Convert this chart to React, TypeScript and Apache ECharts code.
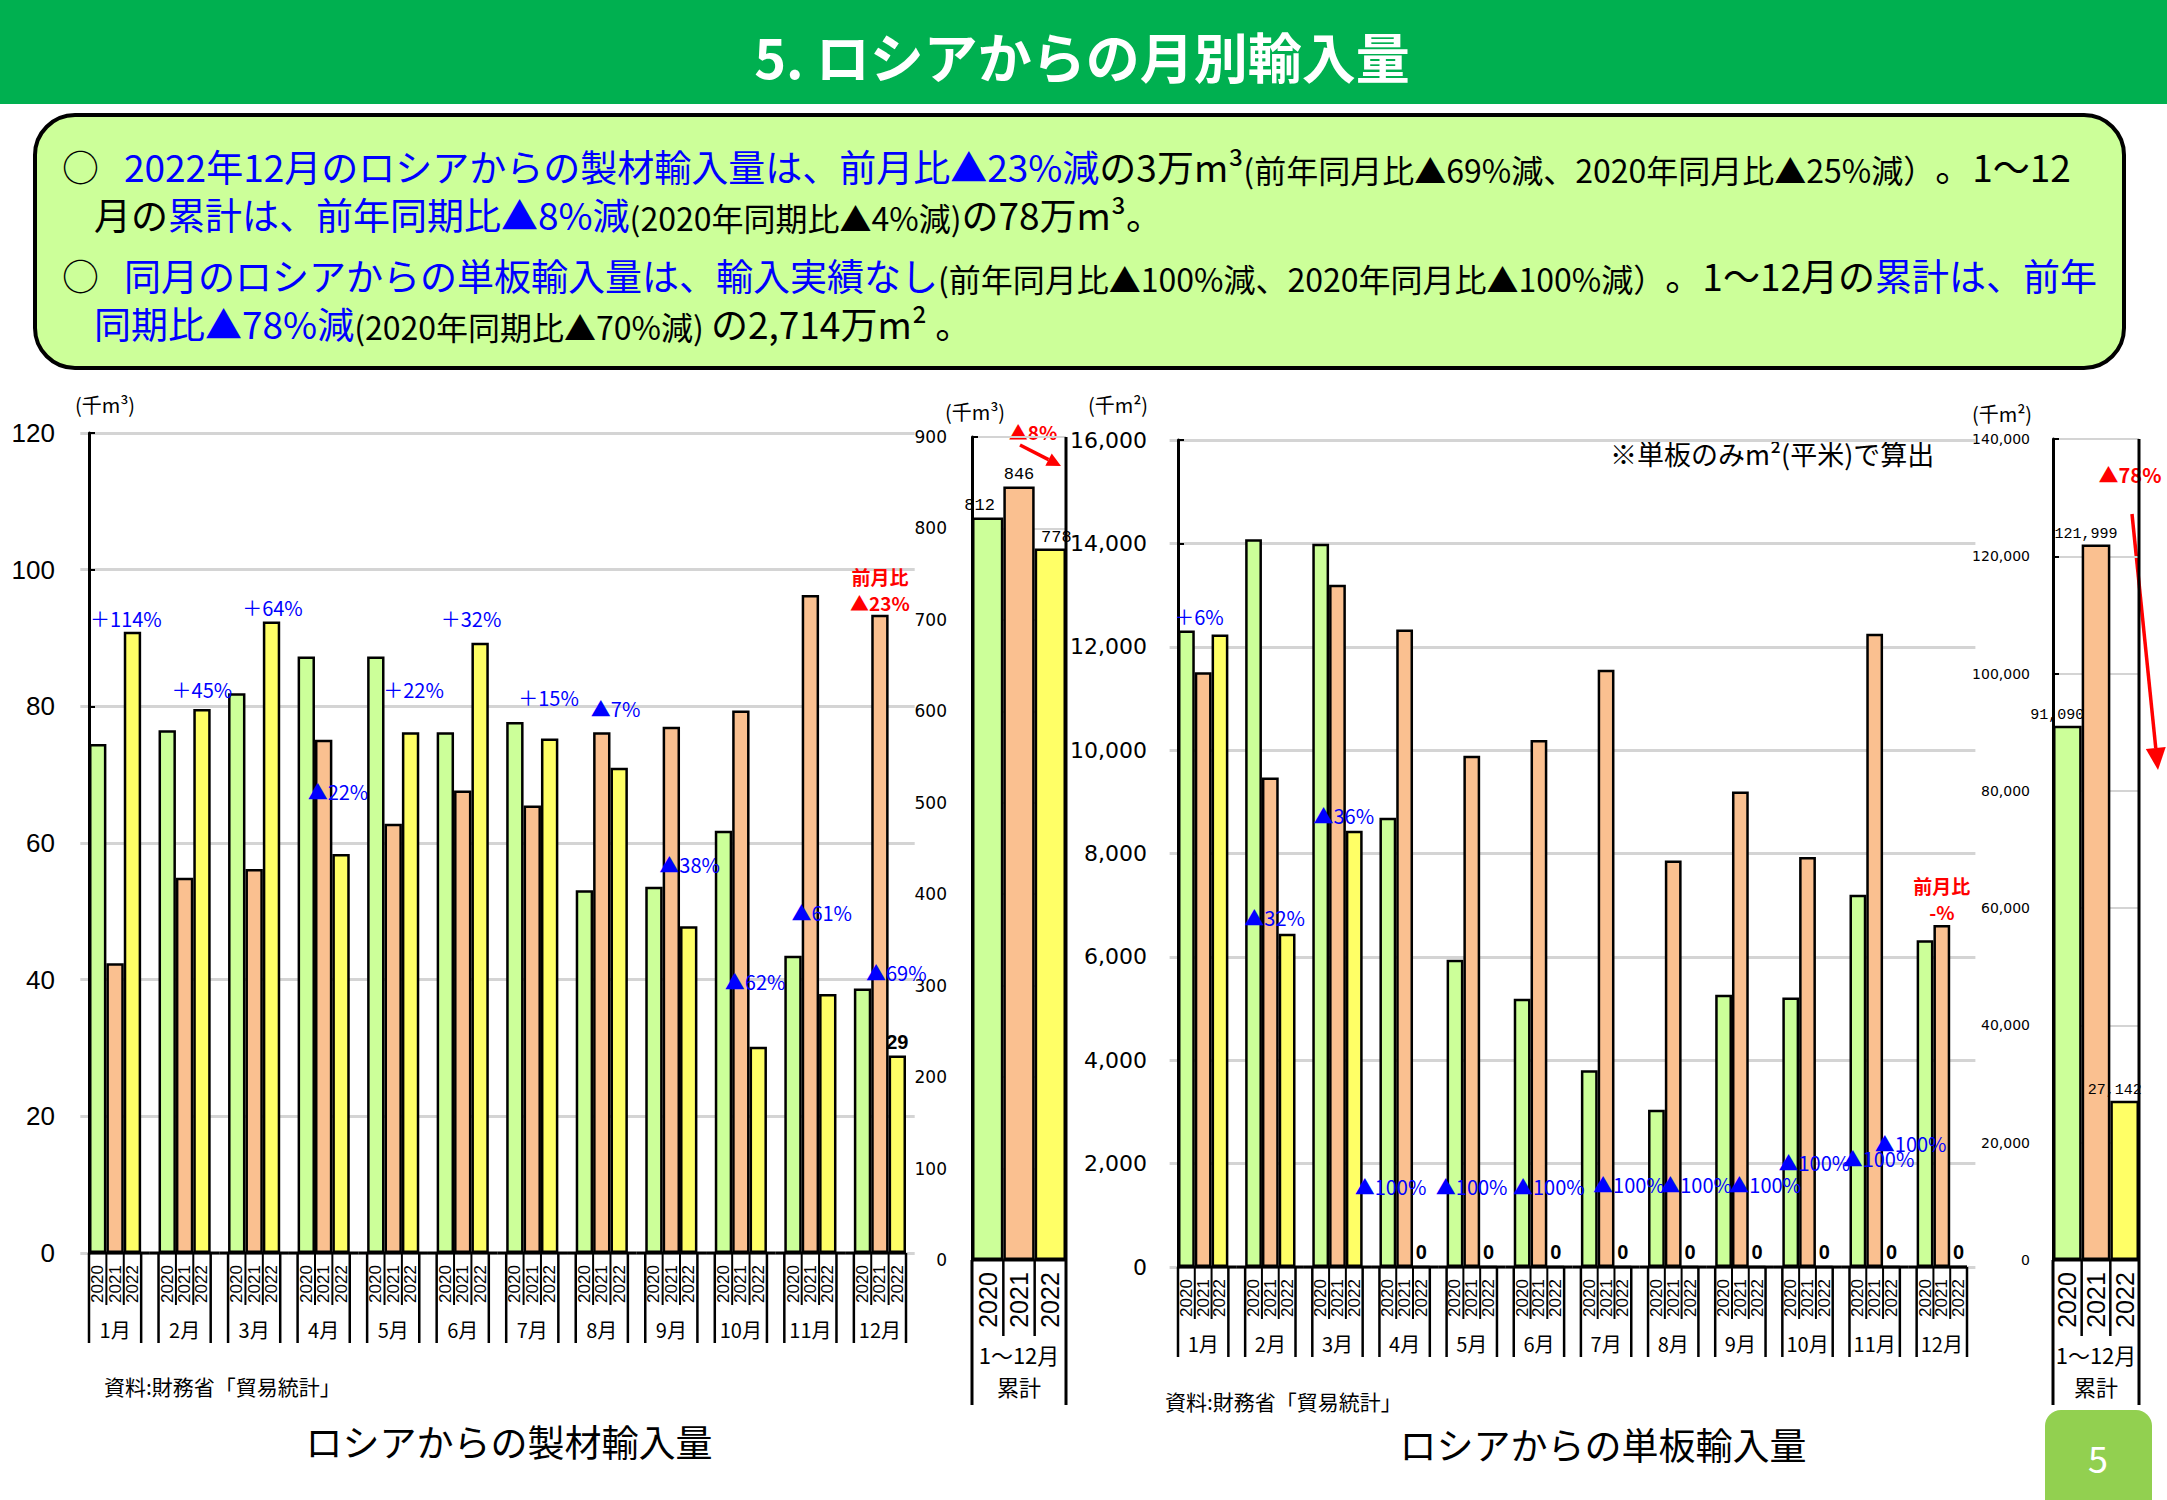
import React, { useEffect, useRef } from 'react';
import * as echarts from 'echarts';

// ---------------- data ----------------
const months = ['1月', '2月', '3月', '4月', '5月', '6月', '7月', '8月', '9月', '10月', '11月', '12月'];
const years = ['2020', '2021', '2022'];

// ロシアからの製材輸入量 (千m3)
const sawn2020 = [74.5, 76.5, 81.9, 87.3, 87.3, 76.2, 77.7, 53.1, 53.6, 61.8, 43.5, 38.7];
const sawn2021 = [42.4, 54.9, 56.2, 75.1, 62.8, 67.7, 65.5, 76.2, 77.0, 79.4, 96.3, 93.4];
const sawn2022 = [90.9, 79.6, 92.4, 58.4, 76.2, 89.3, 75.3, 71.0, 47.8, 30.2, 37.9, 28.9];
const sawnTotals = [812, 846, 778];

// ロシアからの単板輸入量 (千m2)
const veneer2020 = [12312, 14081, 13993, 8692, 5945, 5192, 3808, 3041, 5267, 5212, 7200, 6322];
const veneer2021 = [11505, 9471, 13200, 12332, 9892, 10197, 11553, 7864, 9200, 7932, 12250, 6616];
const veneer2022 = [12237, 6445, 8441, 0, 0, 0, 0, 0, 0, 0, 0, 0];
const veneerTotals = [91090, 121999, 27142];

const sawnTicks = [0, 20, 40, 60, 80, 100, 120];
const sawnTotalTicks = [0, 100, 200, 300, 400, 500, 600, 700, 800, 900];
const veneerTicks = [0, 2000, 4000, 6000, 8000, 10000, 12000, 14000, 16000];
const veneerTotalTicks = [0, 20000, 40000, 60000, 80000, 100000, 120000, 140000];

// annotations: [month index, anchor value, text]
const sawnNotes: [number, number, string][] = [
  [0, 92.9, '＋114%'], [1, 82.5, '＋45%'], [2, 94.4, '＋64%'], [3, 67.5, '▲22%'],
  [4, 82.5, '＋22%'], [5, 92.8, '＋32%'], [6, 81.3, '＋15%'], [7, 79.7, '▲7%'],
  [8, 56.8, '▲38%'], [9, 39.7, '▲62%'], [10, 49.9, '▲61%'], [11, 41.1, '▲69%'],
];
const sawnRedNotes: [number, number, string][] = [[11, 97.1, '前月比\n▲23%']];
const veneerNotes: [number, number, string][] = [
  [0, 12576, '＋6%'], [1, 6753, '▲32%'], [2, 8739, '▲36%'], [3, 1560, '▲100%'],
  [4, 1560, '▲100%'], [5, 1560, '▲100%'], [6, 1600, '▲100%'], [7, 1600, '▲100%'],
  [8, 1600, '▲100%'], [9, 2014, '▲100%'], [10, 2096, '▲100%'], [11, 2390, '▲100%'],
];
const veneerRedNotes: [number, number, string][] = [[11, 7130, '前月比\n-%']];

// layout nudges (px) for the hand-placed notes and total labels
const sawnNoteShift = [-25, -13, -12, -16, -10, -22, -14, -11, -12, -16, -19, -14];
const veneerNoteShift = [-29, -26, -24, -50, -36, -26, -13, -13, -11, -29, -32, -67];
const sawnTotalLabelShift = [-8, 0, 6];
const veneerTotalLabelShift = [-10, -10, -10];

// ---------------- styles ----------------
const C2020 = '#CCFF99';
const C2021 = '#FAC090';
const C2022 = '#FFFF66';
const yearColors = [C2020, C2021, C2022];
const JP = '"Noto Sans CJK JP", "Noto Sans", sans-serif';
const SANS = '"Liberation Sans", Arial, sans-serif';
const WIDE = '"DejaVu Sans", sans-serif';
const MONO = '"Liberation Mono", "DejaVu Sans Mono", monospace';
const GAP = 0.25;

const comma = (v: number) => v.toLocaleString('en-US');

function mainLayout(axisX: number, endX: number) {
  const W = (endX - axisX) / (12 - GAP);
  const half = (W * GAP) / 2;
  return { left: axisX - half, width: W * 12, half };
}

function valueAxis(gi: number, ticks: number[], offset: number, label: any, splitW: number) {
  return {
    type: 'value',
    gridIndex: gi,
    min: ticks[0],
    max: ticks[ticks.length - 1],
    interval: ticks[1] - ticks[0],
    offset,
    axisLine: { show: true, lineStyle: { color: '#000', width: 3 } },
    axisTick: { show: true, inside: true, length: 6, lineStyle: { color: '#000', width: 2 } },
    splitLine: { show: true, lineStyle: { color: '#D4D4D4', width: splitW } },
    axisLabel: { color: '#000', ...label },
  };
}

function catAxis(gi: number, data: string[]) {
  return {
    type: 'category',
    gridIndex: gi,
    data,
    axisLine: { show: false },
    axisTick: { show: false },
    axisLabel: { show: false },
    splitLine: { show: false },
  };
}

function mainDeco(gi: number) {
  return {
    type: 'custom',
    xAxisIndex: gi,
    yAxisIndex: gi,
    clip: false,
    silent: true,
    z: 5,
    data: months.map((_, i) => [i, 0]),
    encode: { x: 0, y: 1 },
    renderItem: (params: any, api: any) => {
      const idx = api.value(0);
      const base = api.coord([idx, 0]);
      const bw = api.size([1, 0])[0];
      const gw = bw * (1 - GAP);
      const left = base[0] - gw / 2;
      const bar = gw / 3;
      const y0 = base[1];
      const ls = { stroke: '#000', lineWidth: 2.5 };
      const ch: any[] = [];
      const x1 = idx === 0 ? left : base[0] - bw / 2;
      const x2 = idx === months.length - 1 ? left + gw : base[0] + bw / 2;
      ch.push({ type: 'line', shape: { x1, y1: y0, x2, y2: y0 }, style: { stroke: '#000', lineWidth: 3 } });
      ch.push({ type: 'line', shape: { x1: left, y1: y0, x2: left, y2: y0 + 90 }, style: ls });
      ch.push({ type: 'line', shape: { x1: left + gw, y1: y0, x2: left + gw, y2: y0 + 90 }, style: ls });
      for (let k = 1; k < 3; k++) {
        ch.push({ type: 'line', shape: { x1: left + bar * k, y1: y0, x2: left + bar * k, y2: y0 + 52 }, style: { stroke: '#000', lineWidth: 2 } });
      }
      for (let k = 0; k < 3; k++) {
        ch.push({
          type: 'text', x: left + bar * (k + 0.5), y: y0 + 31, rotation: Math.PI / 2,
          style: { text: years[k], fill: '#000', fontSize: 17, fontFamily: SANS, align: 'center', verticalAlign: 'middle' },
        });
      }
      ch.push({
        type: 'text', x: base[0], y: y0 + 76,
        style: { text: months[idx], fill: '#000', fontSize: 20, fontFamily: JP, align: 'center', verticalAlign: 'middle' },
      });
      return { type: 'group', children: ch };
    },
  };
}

function cumDeco(gi: number, maxV: number) {
  return {
    type: 'custom',
    xAxisIndex: gi,
    yAxisIndex: gi,
    clip: false,
    silent: true,
    z: 5,
    data: years.map((_, i) => [i, 0]),
    encode: { x: 0, y: 1 },
    renderItem: (params: any, api: any) => {
      const idx = api.value(0);
      const base = api.coord([idx, 0]);
      const top = api.coord([idx, maxV])[1];
      const bw = api.size([1, 0])[0];
      const left = base[0] - bw / 2;
      const right = base[0] + bw / 2;
      const y0 = base[1];
      const ch: any[] = [];
      ch.push({ type: 'line', shape: { x1: left, y1: y0, x2: right, y2: y0 }, style: { stroke: '#000', lineWidth: 3 } });
      if (idx > 0) ch.push({ type: 'line', shape: { x1: left, y1: y0, x2: left, y2: y0 + 76 }, style: { stroke: '#000', lineWidth: 2.5 } });
      if (idx === 0) ch.push({ type: 'line', shape: { x1: left, y1: y0, x2: left, y2: y0 + 145 }, style: { stroke: '#000', lineWidth: 3 } });
      if (idx === 2) ch.push({ type: 'line', shape: { x1: right, y1: top, x2: right, y2: y0 + 145 }, style: { stroke: '#000', lineWidth: 3 } });
      ch.push({
        type: 'text', x: base[0], y: y0 + 40, rotation: Math.PI / 2,
        style: { text: years[idx], fill: '#000', fontSize: 25, fontFamily: SANS, align: 'center', verticalAlign: 'middle' },
      });
      if (idx === 1) {
        ch.push({ type: 'text', x: base[0], y: y0 + 94, style: { text: '1～12月', fill: '#000', fontSize: 22, fontFamily: JP, align: 'center', verticalAlign: 'middle' } });
        ch.push({ type: 'text', x: base[0], y: y0 + 126, style: { text: '累計', fill: '#000', fontSize: 22, fontFamily: JP, align: 'center', verticalAlign: 'middle' } });
      }
      return { type: 'group', children: ch };
    },
  };
}

function noteSeries(gi: number, notes: [number, number, string][], shifts: number[] | null, color: string, red: boolean) {
  return {
    type: 'custom',
    xAxisIndex: gi,
    yAxisIndex: gi,
    clip: false,
    silent: true,
    z: 20,
    data: notes.map((n) => [n[0], n[1]]),
    encode: { x: 0, y: 1 },
    renderItem: (params: any, api: any) => {
      const k = params.dataIndex;
      const p = api.coord([api.value(0), api.value(1)]);
      return {
        type: 'text',
        x: p[0] + (shifts ? shifts[k] : 0),
        y: p[1],
        style: {
          text: notes[k][2], fill: color, fontSize: red ? 19 : 20, fontFamily: JP,
          fontWeight: red ? 'bold' : 'normal', align: red ? 'center' : 'left', verticalAlign: 'middle', lineHeight: 26,
        },
      };
    },
  };
}

function barSeries(gi: number, values: number[], color: string, labelFor: (v: number, i: number) => boolean, fmt: (v: number) => string) {
  return {
    type: 'bar',
    xAxisIndex: gi,
    yAxisIndex: gi,
    barGap: '0%',
    barCategoryGap: '25%',
    itemStyle: { color, borderColor: '#000', borderWidth: 2.5 },
    data: values.map((v, i) =>
      labelFor(v, i)
        ? { value: v, label: { show: true, position: 'top', distance: 4, formatter: fmt(v), color: '#000', fontWeight: 'bold', fontSize: 20, fontFamily: SANS } }
        : v,
    ),
  };
}

function cumSeries(gi: number, values: number[], fontSize: number, fmt: (v: number) => string, shifts: number[]) {
  return {
    type: 'bar',
    xAxisIndex: gi,
    yAxisIndex: gi,
    barCategoryGap: '0%',
    data: values.map((v, i) => ({ value: v, itemStyle: { color: yearColors[i] }, label: { offset: [shifts[i], 0] } })),
    itemStyle: { borderColor: '#000', borderWidth: 2.5 },
    label: { show: true, position: 'top', distance: 3, formatter: (p: any) => fmt(p.value), color: '#000', fontSize, fontFamily: MONO },
  };
}

function arrow(x1: number, y1: number, x2: number, y2: number, len: number, half: number, color: string) {
  const dx = x2 - x1;
  const dy = y2 - y1;
  const d = Math.hypot(dx, dy);
  const ux = dx / d;
  const uy = dy / d;
  const bx = x2 - ux * len;
  const by = y2 - uy * len;
  return [
    { type: 'line', shape: { x1, y1, x2: bx, y2: by }, style: { stroke: color, lineWidth: 3.5 } },
    {
      type: 'polygon',
      shape: { points: [[x2, y2], [bx - uy * half, by + ux * half], [bx + uy * half, by - ux * half]] },
      style: { fill: color },
    },
  ];
}

function txt(x: number, y: number, text: string, size: number, extra: any = {}) {
  return {
    type: 'text', x, y, silent: true,
    style: { text, fill: '#000', fontSize: size, fontFamily: JP, align: 'left', verticalAlign: 'middle', ...extra },
  };
}

function richLine(x: number, y: number, text: string) {
  const tok = (fill: string, fontSize: number) => ({ fill, color: fill, fontSize, fontFamily: JP, verticalAlign: 'bottom' });
  return {
    type: 'text', x, y, silent: true,
    style: {
      text, align: 'left', verticalAlign: 'middle', fontFamily: JP, fontSize: 37,
      rich: { b: tok('#0000FF', 37), k: tok('#000000', 37), s: tok('#000000', 32) },
    },
  };
}

function buildOption() {
  const L = mainLayout(89, 906);
  const R = mainLayout(1178, 1967);
  const graphic: any[] = [
    { type: 'rect', shape: { x: 0, y: 0, width: 2167, height: 104 }, style: { fill: '#00B050' } },
    txt(1082, 55, '5. ロシアからの月別輸入量', 54, { fill: '#FFFFFF', fontWeight: 'bold', align: 'center' }),
    { type: 'rect', shape: { x: 35, y: 115, width: 2089, height: 253, r: 40 }, style: { fill: '#CCFF99', stroke: '#000', lineWidth: 4 } },
    txt(62, 166, '○', 37),
    richLine(124, 166, '{b|2022年12月のロシアからの製材輸入量は、前月比▲23%減}{k|の3万m³}{s|(前年同月比▲69%減、2020年同月比▲25%減）}{k|。1～12}'),
    richLine(94, 214, '{k|月の}{b|累計は、前年同期比▲8%減}{s|(2020年同期比▲4%減)}{k|の78万m³。}'),
    txt(62, 275, '○', 37),
    richLine(124, 275, '{b|同月のロシアからの単板輸入量は、輸入実績なし}{s|(前年同月比▲100%減、2020年同月比▲100%減）}{k|。1～12月の}{b|累計は、前年}'),
    richLine(94, 323, '{b|同期比▲78%減}{s|(2020年同期比▲70%減) }{k|の2,714万m² 。}'),
    txt(105, 404, '(千m³)', 20, { align: 'center' }),
    txt(975, 411, '(千m³)', 20, { align: 'center' }),
    txt(1118, 404, '(千m²)', 20, { align: 'center' }),
    txt(2002, 413, '(千m²)', 20, { align: 'center' }),
    txt(1033, 431, '▲8%', 19, { fill: '#FF0000', fontWeight: 'bold', align: 'center' }),
    ...arrow(1020, 445, 1061, 466, 14, 7, '#FF0000'),
    txt(2130, 474, '▲78%', 20, { fill: '#FF0000', fontWeight: 'bold', align: 'center' }),
    ...arrow(2132, 514, 2158, 770, 22, 10, '#FF0000'),
    txt(1610, 453, '※単板のみm²(平米)で算出', 27),
    txt(104, 1386, '資料:財務省「貿易統計」', 21),
    txt(1165, 1401, '資料:財務省「貿易統計」', 21),
    txt(509, 1441, 'ロシアからの製材輸入量', 37, { align: 'center' }),
    txt(1603, 1444, 'ロシアからの単板輸入量', 37, { align: 'center' }),
    { type: 'rect', shape: { x: 2045, y: 1410, width: 107, height: 100, r: [16, 16, 0, 0] }, style: { fill: '#92D050' } },
    txt(2098, 1457, '5', 36, { fill: '#FFFFFF', align: 'center' }),
  ];

  return {
    animation: false,
    backgroundColor: '#FFFFFF',
    grid: [
      { left: L.left, top: 433, width: L.width, height: 820, containLabel: false, outerBoundsMode: 'none' },
      { left: 972, top: 437, width: 94, height: 823, containLabel: false, outerBoundsMode: 'none' },
      { left: R.left, top: 440, width: R.width, height: 827, containLabel: false, outerBoundsMode: 'none' },
      { left: 2053, top: 439, width: 86, height: 821, containLabel: false, outerBoundsMode: 'none' },
    ],
    xAxis: [catAxis(0, months), catAxis(1, years), catAxis(2, months), catAxis(3, years)],
    yAxis: [
      valueAxis(0, sawnTicks, -L.half, { fontSize: 26, fontFamily: SANS, margin: 34 }, 3),
      valueAxis(1, sawnTotalTicks, 0, { fontSize: 17, fontFamily: WIDE, margin: 25 }, 2),
      valueAxis(2, veneerTicks, -R.half, { fontSize: 22, fontFamily: WIDE, margin: 31, formatter: comma }, 3),
      valueAxis(3, veneerTotalTicks, 0, { fontSize: 14, fontFamily: WIDE, margin: 23, formatter: comma }, 2),
    ],
    series: [
      barSeries(0, sawn2020, C2020, () => false, (v) => String(Math.round(v))),
      barSeries(0, sawn2021, C2021, () => false, (v) => String(Math.round(v))),
      barSeries(0, sawn2022, C2022, (v, i) => i === sawn2022.length - 1, (v) => String(Math.round(v))),
      cumSeries(1, sawnTotals, 17, (v) => String(v), sawnTotalLabelShift),
      barSeries(2, veneer2020, C2020, () => false, (v) => comma(v)),
      barSeries(2, veneer2021, C2021, () => false, (v) => comma(v)),
      barSeries(2, veneer2022, C2022, (v) => v === 0, (v) => comma(v)),
      cumSeries(3, veneerTotals, 15, (v) => comma(v), veneerTotalLabelShift),
      mainDeco(0),
      cumDeco(1, sawnTotalTicks[sawnTotalTicks.length - 1]),
      mainDeco(2),
      cumDeco(3, veneerTotalTicks[veneerTotalTicks.length - 1]),
      noteSeries(0, sawnNotes, sawnNoteShift, '#0000FF', false),
      noteSeries(0, sawnRedNotes, null, '#FF0000', true),
      noteSeries(2, veneerNotes, veneerNoteShift, '#0000FF', false),
      noteSeries(2, veneerRedNotes, null, '#FF0000', true),
    ],
    graphic,
  };
}

export default function App() {
  const ref = useRef<HTMLDivElement>(null);
  useEffect(() => {
    document.body.style.margin = '0';
    document.body.style.overflow = 'hidden';
    const chart = echarts.init(ref.current!, null, { renderer: 'svg' });
    chart.setOption(buildOption() as any);
    return () => chart.dispose();
  }, []);
  return <div ref={ref} style={{ width: 2167, height: 1500 }} />;
}
